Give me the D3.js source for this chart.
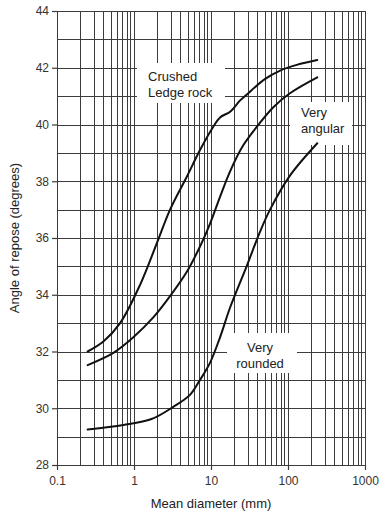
<!DOCTYPE html>
<html>
<head>
<meta charset="utf-8">
<script src="https://cdn.jsdelivr.net/npm/d3@7"></script>
<style>
  body { margin: 0; background: #fff; }
  svg { display: block; font-family: "Liberation Sans", Arial, Helvetica, sans-serif; }
</style>
</head>
<body>
<svg id="chart" width="381" height="516"></svg>
<script>
// Angle of repose vs mean particle diameter, three particle shapes
const crushedDiameter = [0.25, 0.4, 0.66, 1.2, 1.97, 2.94, 4.83, 7.2, 10.7, 13.1, 17.7, 23.9, 29, 50, 79, 130, 240];
const crushedAngle    = [32.0, 32.35, 33.0, 34.35, 35.8, 37.0, 38.15, 39.1, 39.92, 40.25, 40.45, 40.85, 41.05, 41.6, 41.9, 42.1, 42.27];

const angularDiameter = [0.25, 0.54, 0.98, 1.78, 2.94, 4.83, 7.2, 9.7, 13.1, 17.7, 26, 43, 64, 106, 240];
const angularAngle    = [31.52, 31.95, 32.5, 33.2, 33.95, 34.8, 35.7, 36.5, 37.45, 38.35, 39.25, 40.05, 40.6, 41.1, 41.66];

const roundedDiameter = [0.25, 0.73, 1.69, 3.24, 5.33, 7.2, 9.7, 13.1, 17.7, 29, 43, 58.4, 106, 240];
const roundedAngle    = [29.25, 29.41, 29.62, 30.05, 30.47, 31.0, 31.6, 32.5, 33.55, 35.0, 36.2, 37.0, 38.2, 39.34];

const xTickValues = [0.1, 1, 10, 100, 1000];
const xTickLabels = ["0.1", "1", "10", "100", "1000"];
const yTickValues = [28, 30, 32, 34, 36, 38, 40, 42, 44];
const yTickLabels = ["28", "30", "32", "34", "36", "38", "40", "42", "44"];

const xTitle = "Mean diameter (mm)";
const yTitle = "Angle of repose (degrees)";

const W = 381, H = 516;
const margin = { top: 11, right: 16, bottom: 51, left: 57 };
const iw = W - margin.left - margin.right;
const ih = H - margin.top - margin.bottom;

const svg = d3.select("#chart");
const g = svg.append("g").attr("transform", `translate(${margin.left},${margin.top})`);

const x = d3.scaleLog().domain([0.1, 1000]).range([0, iw]);
const y = d3.scaleLinear().domain([28, 44]).range([ih, 0]);

const gridColor = "#3c3c3c";

// log-cycle grid: every 1..9 multiple, and every whole degree
g.append("g").selectAll("line.v").data(x.ticks()).join("line")
  .attr("x1", d => Math.round(x(d)) + 0.5).attr("x2", d => Math.round(x(d)) + 0.5)
  .attr("y1", 0).attr("y2", ih)
  .attr("stroke", gridColor).attr("stroke-width", 1);

g.append("g").selectAll("line.h").data(d3.range(28, 45, 1)).join("line")
  .attr("x1", 0).attr("x2", iw)
  .attr("y1", d => Math.round(y(d)) + 0.5).attr("y2", d => Math.round(y(d)) + 0.5)
  .attr("stroke", gridColor).attr("stroke-width", 1.2);

// axes: ticks and labels only, the grid forms the frame
const xAxis = d3.axisBottom(x).tickValues(xTickValues)
  .tickFormat((d, i) => xTickLabels[i]).tickSize(5).tickPadding(6);
const yAxis = d3.axisLeft(y).tickValues(yTickValues)
  .tickFormat((d, i) => yTickLabels[i]).tickSize(5).tickPadding(3);

const gx = g.append("g").attr("transform", `translate(0,${ih})`).call(xAxis);
const gy = g.append("g").call(yAxis);
[gx, gy].forEach(a => {
  a.select(".domain").remove();
  a.selectAll(".tick line").attr("stroke", gridColor).attr("stroke-width", 1.2);
  a.selectAll(".tick text").attr("fill", "#333").attr("font-size", 12)
    .attr("font-family", "'Liberation Sans', Arial, sans-serif");
});

// annotation boxes clear the grid behind the curve labels
const notes = [
  { lines: ["Crushed", "Ledge rock"], box: [80, 52, 88, 40], tx: 91, ty: 70 },
  { lines: ["Very", "angular"],       box: [233, 91, 62, 43], tx: 244, ty: 106 },
  { lines: ["Very", "rounded"],       box: [170, 322, 70, 40], tx: 203, ty: 341, anchor: "middle" }
];
notes.forEach(n => {
  g.append("rect").attr("x", n.box[0]).attr("y", n.box[1])
    .attr("width", n.box[2]).attr("height", n.box[3]).attr("fill", "#fff");
  const t = g.append("text").attr("font-size", 13).attr("fill", "#222")
    .attr("text-anchor", n.anchor || "start");
  n.lines.forEach((s, i) => {
    t.append("tspan").attr("x", n.tx).attr("y", n.ty + i * 16).text(s);
  });
});

// curves
const line = d3.line().x(d => x(d[0])).y(d => y(d[1])).curve(d3.curveCatmullRom.alpha(0.5));
const series = [
  d3.zip(crushedDiameter, crushedAngle),
  d3.zip(angularDiameter, angularAngle),
  d3.zip(roundedDiameter, roundedAngle)
];
g.append("g").selectAll("path").data(series).join("path")
  .attr("d", line).attr("fill", "none")
  .attr("stroke", "#111").attr("stroke-width", 2)
  .attr("stroke-linecap", "round").attr("stroke-linejoin", "round");

// axis titles
svg.append("text")
  .attr("x", margin.left + iw / 2).attr("y", 508)
  .attr("text-anchor", "middle").attr("font-size", 13).attr("fill", "#222")
  .text(xTitle);

svg.append("text")
  .attr("transform", `translate(19,${margin.top + ih / 2}) rotate(-90)`)
  .attr("text-anchor", "middle").attr("font-size", 13).attr("fill", "#222")
  .text(yTitle);
</script>
</body>
</html>
